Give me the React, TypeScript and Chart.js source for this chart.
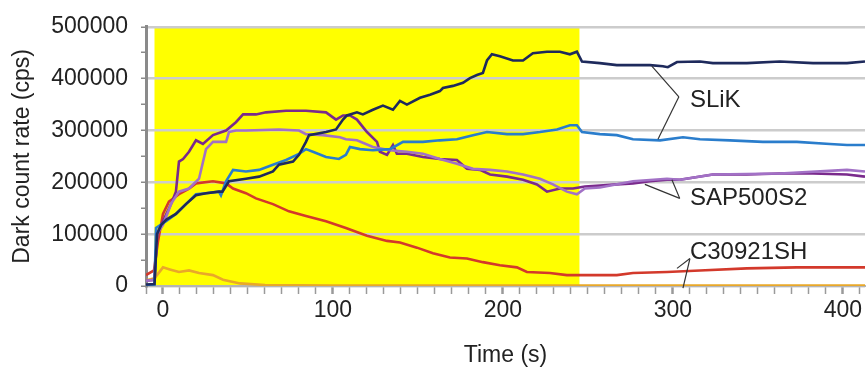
import React, { useEffect, useRef } from "react";
import { Chart, registerables } from "chart.js";
Chart.register(...registerables);

// ---- data (time in s, dark count rate in cps) ----
// SLiK, dark navy trace
const navyT = [-10, -5, -3.5, -1, 2, 7.6, 13.5, 19.4, 25.3, 32.9, 35, 38.8, 48.8, 56.5, 64.7, 68.2, 76.5, 80, 84.1, 85.9, 95.9, 101.8, 105.9, 108.2, 114.1, 117.6, 123.5, 129.4, 135.3, 139.4, 143.5, 151.2, 157.1, 162.9, 164.7, 170.6, 176.5, 180.6, 184.7, 188.2, 190.6, 193.5, 198.2, 205.9, 211.8, 217.6, 225.9, 233.5, 239.4, 243.5, 246.5, 257, 267, 276.5, 286.5, 294.1, 297, 302.4, 315.9, 323.5, 343.5, 362.9, 382.4, 402.4, 413];
const navyV = [3000, 4000, 100000, 118000, 128000, 139000, 158000, 175000, 179000, 182000, 182000, 202000, 207000, 211000, 221000, 234000, 240000, 253000, 278000, 291000, 297000, 302000, 321000, 329000, 335000, 331000, 340000, 348000, 340000, 357000, 350000, 363000, 369000, 376000, 382000, 386000, 392000, 401000, 407000, 411000, 435000, 447000, 443000, 435000, 435000, 449000, 452000, 452000, 447000, 452000, 433000, 430000, 426000, 426000, 426000, 424000, 422000, 432000, 433000, 430000, 430000, 433000, 430000, 430000, 433000];

// SLiK, blue trace
const blueT = [-10, -5, -4.1, 1.8, 7.6, 13.5, 19.4, 25.3, 32.9, 34.1, 37.1, 41.2, 48.8, 56.5, 64.7, 72.4, 80, 84.1, 88.2, 95.9, 103.5, 107.6, 110, 115.9, 123.5, 133.5, 141.2, 152.9, 162.9, 172.9, 182.4, 190.6, 202.4, 211.8, 221.8, 231.8, 239.4, 243.5, 246.5, 257, 267, 276.5, 292.4, 305.9, 315.9, 333.5, 352.9, 372.9, 392.4, 402.4, 413];
const blueV = [2000, 3000, 112000, 125000, 139000, 158000, 177000, 179000, 182000, 175000, 202000, 224000, 221000, 224000, 234000, 243000, 255000, 264000, 259000, 249000, 245000, 253000, 268000, 264000, 262000, 264000, 278000, 278000, 281000, 283000, 291000, 297000, 293000, 293000, 297000, 302000, 310000, 310000, 297000, 293000, 291000, 283000, 281000, 287000, 283000, 281000, 278000, 278000, 274000, 272000, 272000];

// SAP500S2, dark purple trace
const darkPurpleT = [-10, -5, -3.5, 0, 5, 7.6, 9.4, 11.8, 15.3, 19.4, 23.5, 29.4, 37.1, 42.9, 47.1, 54.7, 60.6, 72.4, 84.1, 95.9, 101.8, 105.9, 110, 114.1, 120, 125.9, 127.6, 131.8, 135.3, 137.6, 143.5, 152.9, 162.9, 172.9, 178.8, 186.5, 192.4, 202.4, 211.8, 220, 225.9, 233.5, 241.2, 248.2, 257, 267, 276.5, 286.5, 296.5, 304.1, 323.5, 343.5, 362.9, 382.4, 402.4, 413];
const darkPurpleV = [10000, 12000, 100000, 125000, 160000, 182000, 240000, 245000, 259000, 281000, 274000, 291000, 300000, 316000, 331000, 331000, 335000, 338000, 338000, 335000, 321000, 329000, 329000, 321000, 297000, 278000, 259000, 253000, 272000, 255000, 255000, 249000, 245000, 243000, 226000, 224000, 215000, 211000, 205000, 196000, 182000, 188000, 188000, 192000, 194000, 196000, 198000, 202000, 205000, 205000, 215000, 215000, 217000, 217000, 215000, 211000];

// SAP500S2, light purple trace
const lightPurpleT = [-10, -5, -3.5, 0, 5, 9.4, 15.3, 21.2, 25.3, 29.4, 37.1, 38.8, 42.9, 48.8, 68.2, 80, 84.1, 94.1, 104.1, 107.6, 114.1, 123.5, 133.5, 143.5, 152.9, 162.9, 172.9, 182.4, 192.4, 202.4, 211.8, 221.8, 229.4, 237.6, 243.5, 248.2, 257, 276.5, 296.5, 304.1, 323.5, 362.9, 402.4, 413];
const lightPurpleV = [10000, 12000, 100000, 118000, 160000, 182000, 188000, 207000, 264000, 278000, 278000, 297000, 300000, 300000, 302000, 300000, 293000, 291000, 287000, 283000, 281000, 268000, 262000, 259000, 255000, 245000, 236000, 226000, 224000, 221000, 215000, 207000, 196000, 182000, 177000, 188000, 190000, 202000, 207000, 205000, 215000, 217000, 224000, 221000];

// C30921SH, red trace
const redT = [-10, -5.3, -2.9, 0, 3.5, 9.4, 15.3, 19.4, 29.4, 37.1, 41.2, 48.8, 54.7, 64.7, 74.1, 84.1, 95.9, 107.6, 120, 131.8, 139.4, 149.4, 158.8, 168.8, 178.8, 188.2, 198.2, 208.2, 214.1, 227.6, 237.6, 247, 267, 276.5, 296.5, 315.9, 343.5, 372.9, 413];
const redV = [21000, 30000, 87000, 139000, 163000, 177000, 188000, 198000, 202000, 198000, 188000, 179000, 169000, 158000, 144000, 135000, 125000, 112000, 97000, 87000, 84000, 74000, 63000, 55000, 53000, 46000, 40000, 36000, 27000, 25000, 21000, 21000, 21000, 25000, 27000, 30000, 34000, 36000, 36000];

// C30921SH, orange trace
const orangeT = [-10, -5, 0, 4, 9.4, 15.3, 21.2, 29.4, 35.3, 45.3, 60, 100, 200, 300, 413];
const orangeV = [11000, 15000, 36000, 32000, 27000, 30000, 25000, 21000, 12000, 5000, 2000, 1000, 1000, 1000, 1000];

// illuminated period (yellow band), in s
const bandStart = -5;
const bandEnd = 245;

// annotation labels and pointer lines (data units)
const annoLabels = ["SLiK", "SAP500S2", "C30921SH"];
const annoTextT = [310, 310, 310];
const annoTextV = [359000, 169000, 65000];
const annoJoinT = [303.5, 304, 310];
const annoJoinV = [365000, 169000, 53000];
const annoEndT = [[287.6, 291.2], [283.5, 299.4], [302.4, 305.9]];
const annoEndV = [[424000, 283000], [196000, 205000], [34000, -4000]];

const yTitle = "Dark count rate (cps)";
const xTitle = "Time (s)";

const FONT = "'Liberation Sans', Arial, Helvetica, sans-serif";

function zip(t: number[], v: number[]) {
  return t.map((x, i) => ({ x, y: v[i] }));
}

const bandPlugin = {
  id: "band",
  beforeDraw(chart: any) {
    const { ctx, chartArea, scales } = chart;
    const x0 = scales.x.getPixelForValue(bandStart);
    const x1 = scales.x.getPixelForValue(bandEnd);
    ctx.save();
    ctx.fillStyle = "#ffff00";
    ctx.fillRect(x0, chartArea.top, x1 - x0, chartArea.bottom - chartArea.top);
    ctx.restore();
  },
};

const annoPlugin = {
  id: "anno",
  afterDatasetsDraw(chart: any) {
    const { ctx, scales } = chart;
    const X = (t: number) => scales.x.getPixelForValue(t);
    const Y = (v: number) => scales.y.getPixelForValue(v);
    ctx.save();
    ctx.strokeStyle = "#333333";
    ctx.lineWidth = 1.2;
    for (let i = 0; i < annoLabels.length; i++) {
      for (let j = 0; j < 2; j++) {
        ctx.beginPath();
        ctx.moveTo(X(annoJoinT[i]), Y(annoJoinV[i]));
        ctx.lineTo(X(annoEndT[i][j]), Y(annoEndV[i][j]));
        ctx.stroke();
      }
      ctx.fillStyle = "#222222";
      ctx.font = `24px ${FONT}`;
      ctx.textAlign = "left";
      ctx.textBaseline = "middle";
      ctx.fillText(annoLabels[i], X(annoTextT[i]), Y(annoTextV[i]));
    }
    ctx.restore();
  },
};

export default function App() {
  const ref = useRef<HTMLCanvasElement | null>(null);
  useEffect(() => {
    if (!ref.current) return;
    const mk = (t: number[], v: number[], color: string) => ({
      data: zip(t, v),
      borderColor: color,
      backgroundColor: color,
      borderWidth: 2.6,
      pointRadius: 0,
      tension: 0,
      fill: false,
    });
    const chart = new Chart(ref.current, {
      type: "line",
      data: {
        datasets: [
          mk(navyT, navyV, "#1e2a5c"),
          mk(blueT, blueV, "#2a7dcc"),
          mk(lightPurpleT, lightPurpleV, "#a271c6"),
          mk(darkPurpleT, darkPurpleV, "#7a2a8c"),
          mk(redT, redV, "#d3392b"),
          mk(orangeT, orangeV, "#e9a829"),
        ],
      },
      options: {
        animation: false,
        responsive: false,
        maintainAspectRatio: false,
        layout: { padding: { left: 0, top: 23, right: 3, bottom: 0 } },
        plugins: { legend: { display: false }, tooltip: { enabled: false } },
        scales: {
          x: {
            type: "linear",
            min: -10,
            max: 413,
            afterFit: (s: any) => {
              s.height = 83;
            },
            ticks: {
              stepSize: 10,
              autoSkip: false,
              maxRotation: 0,
              includeBounds: false,
              padding: 3,
              color: "#222222",
              font: { family: FONT, size: 23 },
              callback: (v: any) => (Number(v) % 100 === 0 ? String(v) : ""),
            },
            grid: {
              drawOnChartArea: false,
              drawTicks: true,
              tickLength: 8,
              tickColor: "#9a9a9a",
              tickWidth: (c: any) => (c.tick && c.tick.value % 100 === 0 ? 2.5 : 1.5),
            },
            border: { display: true, color: "#b5b5b5", width: 2 },
            title: {
              display: true,
              text: xTitle,
              color: "#222222",
              font: { family: FONT, size: 23 },
              padding: { top: 0, bottom: 0 },
            },
          },
          y: {
            type: "linear",
            min: 0,
            max: 500000,
            afterFit: (s: any) => {
              s.width = 146;
            },
            ticks: {
              stepSize: 50000,
              autoSkip: false,
              padding: 13,
              color: "#222222",
              font: { family: FONT, size: 23 },
              callback: (v: any) => (Number(v) % 100000 === 0 ? String(v) : ""),
            },
            grid: {
              drawTicks: true,
              tickLength: 5,
              tickColor: "#8a8a8a",
              tickWidth: 1.5,
              lineWidth: 2.5,
              color: (c: any) =>
                c.tick && c.tick.value % 100000 === 0 ? "#cccccc" : "rgba(0,0,0,0)",
            },
            border: { display: true, color: "#8a8a8a", width: 3 },
            title: {
              display: true,
              text: yTitle,
              color: "#222222",
              font: { family: FONT, size: 23 },
              padding: { top: 9, bottom: 0 },
            },
          },
        },
      },
      plugins: [bandPlugin, annoPlugin],
    } as any);
    return () => chart.destroy();
  }, []);
  return (
    <div style={{ position: "fixed", left: 0, top: 0, width: 868, height: 369, background: "#ffffff" }}>
      <canvas ref={ref} width={868} height={369} style={{ width: 868, height: 369 }} />
    </div>
  );
}
